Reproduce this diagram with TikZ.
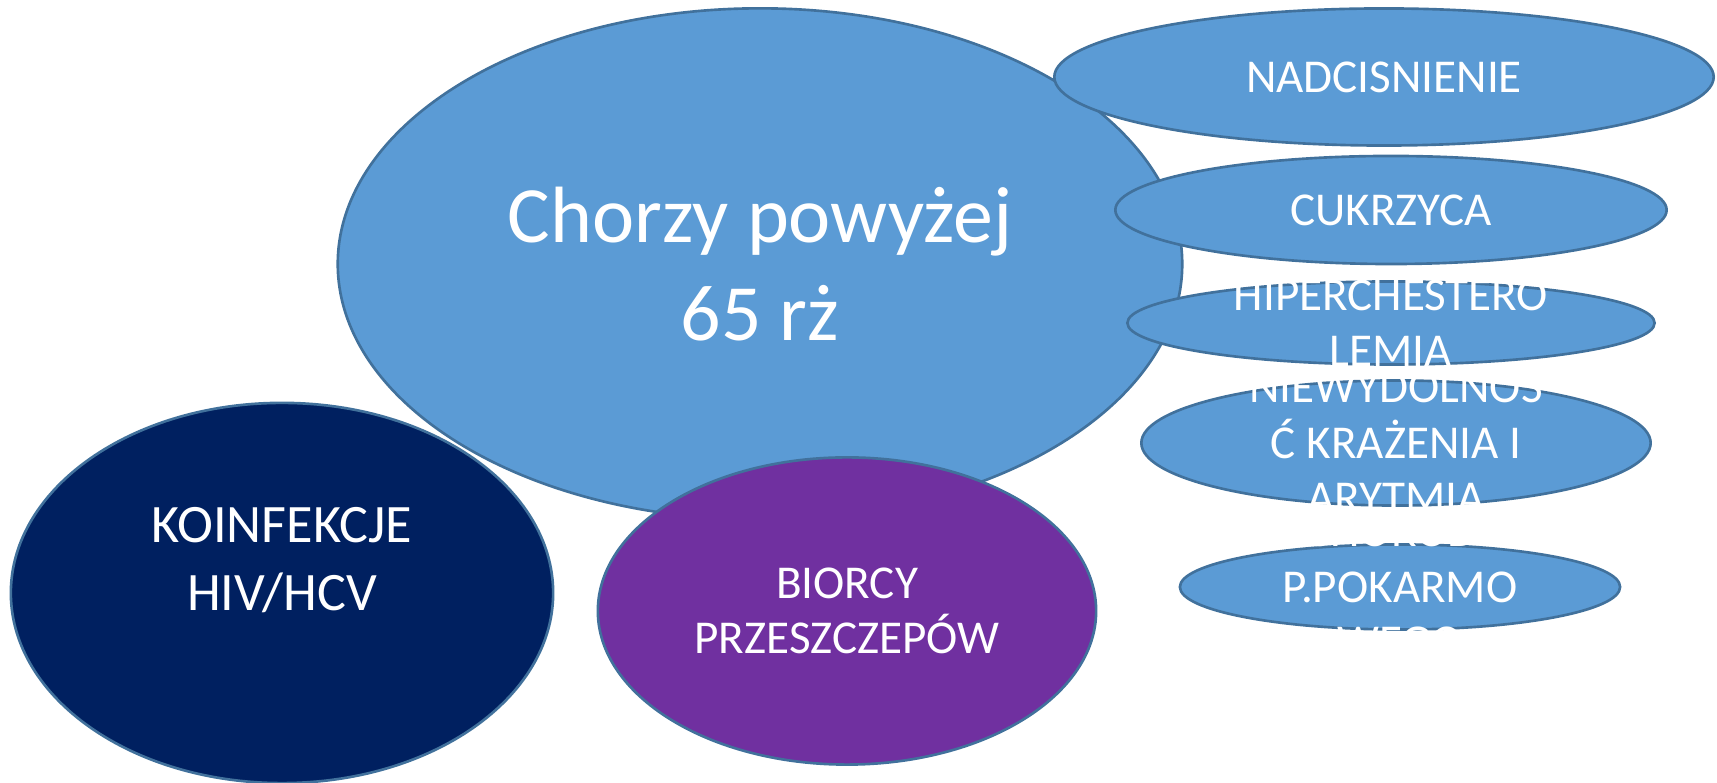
\documentclass[tikz,border=0pt]{standalone}
\usepackage{fontspec}
\setmainfont{Carlito}
\usepackage{xcolor}
\usepackage{tikz}
\usetikzlibrary{shapes.geometric}
\definecolor{bubbleblue}{HTML}{5B9BD5}
\definecolor{bubbleline}{HTML}{41719C}
\definecolor{bubblenavy}{HTML}{002060}
\definecolor{bubblepurple}{HTML}{7030A0}

\begin{document}
\begin{tikzpicture}[
  x=0.01cm, y=-0.01cm,
  bubble/.style={
    ellipse, inner sep=0pt, draw=bubbleline, line width=0.75pt,
    fill=bubbleblue
  },
  txt/.style={
    text=white, align=center, inner sep=0pt,
    font=\fontsize{13.4pt}{15.8pt}\selectfont
  },
  bigtxt/.style={txt, font=\fontsize{22.7pt}{28pt}\selectfont},
  midtxt/.style={txt, font=\fontsize{15.4pt}{19.3pt}\selectfont}
]
  \useasboundingbox (0,0) rectangle (1717,783);

  % Central group
  \node[bubble, minimum width=8.44cm, minimum height=5.11cm,
    label={[bigtxt]center:Chorzy powyżej\\65 rż}] (chorzy) at (760,264) {};

  % Comorbidities on the right
  \node[bubble, minimum width=6.59cm, minimum height=1.37cm,
    label={[txt]center:NADCISNIENIE}] (nadcis) at (1384,77) {};
  \node[bubble, minimum width=5.51cm, minimum height=1.08cm,
    label={[txt]center:CUKRZYCA}] (cukrzyca) at (1391,210) {};
  \node[bubble, minimum width=5.27cm, minimum height=0.83cm,
    label={[txt]center:HIPERCHESTERO\\LEMIA}] (hiper) at (1391,323) {};
  \node[bubble, minimum width=5.09cm, minimum height=1.25cm,
    label={[txt]center:NIEWYDOLNOS\\Ć KRAŻENIA I\\ARYTMIA}] (niewyd) at (1396,443) {};
  \node[bubble, minimum width=4.40cm, minimum height=0.85cm,
    label={[txt]center:CHOROBY\\P.POKARMO\\WEGO}] (choroby) at (1400,587) {};

  % Other groups below
  \node[bubble, fill=bubblenavy, minimum width=5.42cm, minimum height=3.80cm,
    label={[midtxt]center:KOINFEKCJE\\HIV/HCV\\\mbox{}}] (koinf) at (282,593) {};
  \node[bubble, fill=bubblepurple, minimum width=4.98cm, minimum height=3.07cm,
    label={[txt]center:BIORCY\\PRZESZCZEPÓW}] (biorcy) at (847,611) {};
\end{tikzpicture}
\end{document}
